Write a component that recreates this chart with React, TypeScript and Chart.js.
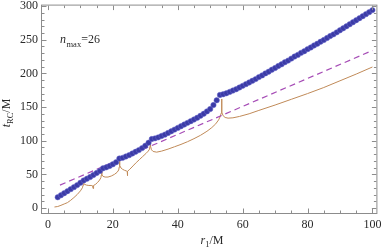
import React, { useEffect, useRef } from "react";
import { Chart, registerables } from "chart.js";

Chart.register(...registerables);

const FONT = '"Liberation Serif", "DejaVu Serif", serif';

// blue dots: t_RC/M versus r1/M
const blueR = [3, 4, 5, 6, 7, 8, 9, 10, 11, 12, 13, 14, 15, 16, 17, 18, 19, 20, 21, 22, 23, 24, 25, 26, 27, 28, 29, 30, 31, 32, 33, 34, 35, 36, 37, 38, 39, 40, 41, 42, 43, 44, 45, 46, 47, 48, 49, 50, 51, 52, 53, 54, 55, 56, 57, 58, 59, 60, 61, 62, 63, 64, 65, 66, 67, 68, 69, 70, 71, 72, 73, 74, 75, 76, 77, 78, 79, 80, 81, 82, 83, 84, 85, 86, 87, 88, 89, 90, 91, 92, 93, 94, 95, 96, 97, 98, 99, 100];
const blueT = [16, 19, 22, 25, 28, 31, 34, 37.5, 41, 43.5, 46, 49, 52, 55, 59, 60.5, 62.5, 65, 68, 73.5, 74.5, 76.5, 78.5, 81, 83.5, 86, 89, 92.5, 97, 102.5, 103.5, 105, 107, 109, 111.5, 114, 116.5, 119, 121.5, 124, 126.5, 129, 131.5, 134, 137, 140, 143.5, 147, 153, 160, 168, 169, 170.5, 172.5, 174.5, 176.5, 179, 181.5, 184, 186.5, 189, 191.5, 194.5, 197, 200, 202.5, 205.5, 208, 211, 213.5, 216.5, 219, 222, 225, 227.5, 230.5, 233, 236, 238.5, 241.5, 244, 247, 249.5, 252.5, 255.5, 258, 261, 264, 267, 270, 273, 276, 279, 282, 285, 288, 291, 294];

// purple dashed reference line
const refR = [3.7, 100];
const refT = [34, 234];

// brown curve
const brownR = [2.0, 3.0, 4.0, 5.0, 6.0, 7.0, 8.0, 9.0, 10.0, 10.6, 10.85, 10.97, 11.08, 11.35, 11.9, 12.6, 13.3, 13.75, 13.9, 14.05, 14.6, 15.3, 15.9, 16.3, 16.45, 16.55, 16.65, 16.95, 17.6, 18.5, 19.5, 20.5, 21.3, 21.8, 21.97, 22.05, 22.15, 22.5, 23.0, 23.6, 24.2, 24.42, 24.48, 24.55, 25.2, 26.2, 27.2, 28.2, 29.2, 30.2, 30.9, 31.3, 31.46, 31.55, 31.65, 31.9, 32.4, 33.5, 35.0, 37.0, 39.0, 41.0, 43.0, 45.0, 47.0, 49.0, 50.5, 51.7, 52.6, 53.1, 53.38, 53.5, 53.62, 54.0, 54.6, 55.5, 57.0, 59.0, 62.0, 65.0, 70.0, 75.0, 80.0, 85.0, 90.0, 95.0, 100.0];
const brownT = [1.5, 2.2, 4.0, 6.0, 8.0, 11.5, 15.5, 20.0, 25.5, 30.0, 34.0, 42.0, 36.5, 35.0, 34.0, 33.5, 33.5, 33.0, 29.0, 33.5, 35.0, 38.0, 41.5, 45.0, 49.0, 56.0, 49.5, 47.0, 46.0, 46.0, 47.5, 50.0, 53.0, 56.5, 61.0, 71.0, 63.0, 59.5, 57.5, 56.0, 55.0, 54.5, 48.0, 54.5, 57.5, 62.5, 67.5, 72.0, 76.5, 81.0, 84.5, 87.5, 92.0, 102.0, 92.0, 86.5, 84.0, 83.0, 84.5, 87.5, 91.0, 94.5, 98.5, 103.0, 108.0, 114.0, 119.5, 125.0, 131.0, 136.0, 141.0, 162.0, 142.0, 137.0, 134.5, 133.5, 134.0, 136.0, 140.0, 145.0, 153.0, 161.5, 170.0, 179.0, 189.0, 199.0, 209.5];

const xMajor = [0, 20, 40, 60, 80, 100];
const xMinor = [5, 10, 15, 25, 30, 35, 45, 50, 55, 65, 70, 75, 85, 90, 95];
const yMajor = [0, 50, 100, 150, 200, 250, 300];
const yMinor = [10, 20, 30, 40, 60, 70, 80, 90, 110, 120, 130, 140, 160, 170, 180, 190, 210, 220, 230, 240, 260, 270, 280, 290];

const FRAME = "#8c8c8c";
const TEXT = "#2a2a2a";

const framePlugin = {
  id: "frameTicks",
  afterDraw(chart: any) {
    const { ctx, chartArea: a, scales } = chart;
    const x = scales.x;
    const y = scales.y;
    ctx.save();
    ctx.strokeStyle = FRAME;
    ctx.lineWidth = 1;
    ctx.strokeRect(a.left + 0.5, a.top + 0.5, a.right - a.left - 1, a.bottom - a.top - 1);
    ctx.beginPath();
    const xt = (v: number, len: number) => {
      const p = Math.round(x.getPixelForValue(v)) + 0.5;
      ctx.moveTo(p, a.bottom - 1);
      ctx.lineTo(p, a.bottom - 1 - len);
      ctx.moveTo(p, a.top + 1);
      ctx.lineTo(p, a.top + 1 + len);
    };
    const yt = (v: number, len: number) => {
      const p = Math.round(y.getPixelForValue(v)) + 0.5;
      ctx.moveTo(a.left + 1, p);
      ctx.lineTo(a.left + 1 + len, p);
      ctx.moveTo(a.right - 1, p);
      ctx.lineTo(a.right - 1 - len, p);
    };
    xMajor.forEach((v) => xt(v, 4.5));
    xMinor.forEach((v) => xt(v, 2.5));
    yMajor.forEach((v) => yt(v, 4.5));
    yMinor.forEach((v) => yt(v, 2.5));
    ctx.stroke();

    // annotation n_max=26
    ctx.fillStyle = TEXT;
    ctx.textBaseline = "alphabetic";
    ctx.textAlign = "left";
    let cx = 60;
    ctx.font = `italic 12px ${FONT}`;
    ctx.fillText("n", cx, 43);
    cx += ctx.measureText("n").width + 0.5;
    ctx.font = `8.5px ${FONT}`;
    ctx.fillText("max", cx, 46.5);
    cx += ctx.measureText("max").width;
    ctx.font = `12px ${FONT}`;
    ctx.fillText("=26", cx, 43);

    // x title r_1/M
    const parts1: [string, string, number][] = [
      ["r", `italic 12px ${FONT}`, 0],
      ["1", `8.5px ${FONT}`, 3],
      ["/M", `12px ${FONT}`, 0],
    ];
    let w = 0;
    parts1.forEach(([t, f]) => { ctx.font = f; w += ctx.measureText(t).width; });
    cx = 212 - w / 2;
    parts1.forEach(([t, f, dy]) => {
      ctx.font = f;
      ctx.fillText(t, cx, 244 + dy);
      cx += ctx.measureText(t).width;
    });

    // y title t_RC/M (rotated)
    const parts2: [string, string, number][] = [
      ["t", `italic 12px ${FONT}`, 0],
      ["RC", `8.5px ${FONT}`, 3],
      ["/M", `12px ${FONT}`, 0],
    ];
    w = 0;
    parts2.forEach(([t, f]) => { ctx.font = f; w += ctx.measureText(t).width; });
    ctx.translate(10, 113);
    ctx.rotate(-Math.PI / 2);
    cx = -w / 2;
    parts2.forEach(([t, f, dy]) => {
      ctx.font = f;
      ctx.fillText(t, cx, dy);
      cx += ctx.measureText(t).width;
    });
    ctx.restore();
  },
};

export default function App() {
  const ref = useRef<HTMLCanvasElement>(null);
  useEffect(() => {
    document.body.style.margin = "0";
    const blue = blueR.map((r, i) => ({ x: r, y: blueT[i] }));
    const ref2 = refR.map((r, i) => ({ x: r, y: refT[i] }));
    const brown = brownR.map((r, i) => ({ x: r, y: brownT[i] }));
    const chart = new Chart(ref.current as HTMLCanvasElement, {
      type: "scatter",
      data: {
        datasets: [
          {
            data: blue,
            showLine: false,
            pointRadius: 2.7,
            pointBackgroundColor: "#3b3ba6",
            pointBorderColor: "rgba(105,105,205,0.85)",
            pointBorderWidth: 0.6,
          },
          {
            data: ref2,
            showLine: true,
            borderColor: "#a64cb6",
            borderWidth: 1.2,
            borderDash: [6, 4],
            pointRadius: 0,
          },
          {
            data: brown,
            showLine: true,
            borderColor: "#c08a58",
            borderWidth: 1,
            pointRadius: 0,
            tension: 0,
          },
        ] as any,
      },
      options: {
        animation: false,
        responsive: false,
        maintainAspectRatio: false,
        devicePixelRatio: 1,
        layout: { padding: { left: 0, right: 3, top: 4, bottom: 0 } },
        plugins: { legend: { display: false }, tooltip: { enabled: false } },
        scales: {
          x: {
            type: "linear",
            min: -2.15,
            max: 101.53,
            grid: { display: false, drawTicks: false, tickLength: 0 },
            border: { display: false },
            ticks: { font: { family: FONT, size: 12 }, color: TEXT, padding: 4, maxRotation: 0, autoSkip: false },
            afterBuildTicks: (s: any) => { s.ticks = xMajor.map((v) => ({ value: v })); },
            afterFit: (s: any) => { s.height = 34; s.paddingLeft = 0; s.paddingRight = 0; },
          },
          y: {
            type: "linear",
            min: -8.9,
            max: 302.2,
            grid: { display: false, drawTicks: false, tickLength: 0 },
            border: { display: false },
            ticks: { font: { family: FONT, size: 12 }, color: TEXT, padding: 3, autoSkip: false },
            afterBuildTicks: (s: any) => { s.ticks = yMajor.map((v) => ({ value: v })); },
            afterFit: (s: any) => { s.width = 41; s.paddingTop = 0; s.paddingBottom = 0; },
          },
        },
      } as any,
      plugins: [framePlugin],
    });
    return () => chart.destroy();
  }, []);
  return (
    <div style={{ position: "absolute", left: 0, top: 0, width: 382, height: 248 }}>
      <canvas ref={ref} width={382} height={248} style={{ display: "block" }} />
    </div>
  );
}
